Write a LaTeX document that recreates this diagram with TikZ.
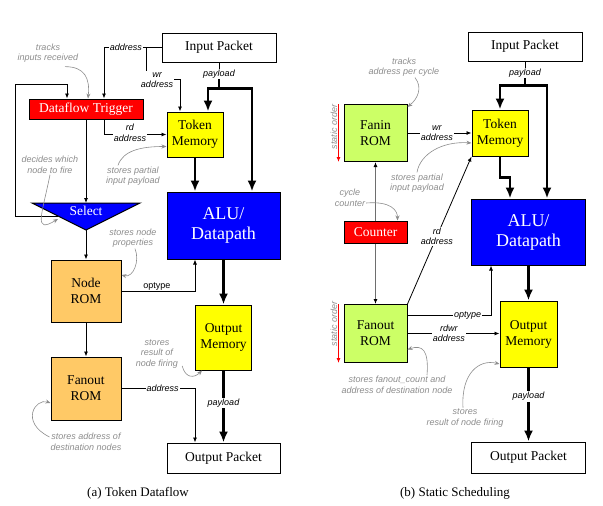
\documentclass[tikz,border=0pt]{standalone}
\usepackage{fontspec}
\setmainfont{Liberation Serif}
\setsansfont{Liberation Sans}
\usetikzlibrary{positioning, arrows.meta, calc}
\definecolor{trigRed}{HTML}{FF0000}
\definecolor{aluBlue}{HTML}{0000FF}
\definecolor{memYellow}{HTML}{FFFF00}
\definecolor{romOrange}{HTML}{FFC966}
\definecolor{romGreen}{HTML}{CCFF66}
\definecolor{noteGray}{HTML}{8C8C8C}
\definecolor{wireGray}{HTML}{6E6E6E}

\begin{document}
\begin{tikzpicture}[x=1pt, y=-1pt,
 blk/.style={draw, line width=1pt, inner sep=0pt, align=center, font=\fontsize{13.5}{16}\selectfont},
 lbl/.style={font=\fontsize{9}{10.5}\selectfont\sffamily\itshape, align=center, inner sep=1pt},
 note/.style={lbl, text=noteGray},
 wire/.style={line width=0.8pt, -{Latex[length=5pt, width=4pt]}},
 gwire/.style={wireGray, line width=1.5pt, -{Latex[length=5pt, width=4pt, black]}},
 bus/.style={line width=2.4pt, -{Latex[length=11pt, width=9pt]}},
 hint/.style={noteGray, line width=0.6pt, -{Stealth[length=5pt, width=4pt]}}]
\useasboundingbox (0,0) rectangle (603,506);

% (a) token dataflow
\node[blk, minimum width=114pt, minimum height=29pt] (inA) at (219,47.5) {Input Packet};
\node[blk, fill=trigRed, text=white, minimum width=114pt, minimum height=20pt] (trig) at (86,109) {Dataflow Trigger};
\node[blk, fill=memYellow, minimum width=56pt, minimum height=45pt] (tokA) at (195,134.5) {Token\\Memory};
\node[blk, fill=aluBlue, text=white, minimum width=113pt, minimum height=67pt, font=\fontsize{18}{20}\selectfont] (aluA) at (223.5,225.5) {ALU/\\Datapath};
\filldraw[fill=aluBlue, line width=1pt] (32,203) -- (140,203) -- (86,230) -- cycle;
\node[text=white, font=\fontsize{13.5}{16}\selectfont] (sel) at (86,211) {Select};
\coordinate (selTop) at (86,203); \coordinate (selApex) at (86,230); \coordinate (selLeft) at (58,216);
\node[blk, fill=romOrange, minimum width=70pt, minimum height=62pt] (nodeROM) at (86,291) {Node\\ROM};
\node[blk, fill=romOrange, minimum width=70pt, minimum height=63pt] (fanA) at (86,388.5) {Fanout\\ROM};
\node[blk, fill=memYellow, minimum width=56pt, minimum height=65pt] (outMemA) at (223.5,337.5) {Output\\Memory};
\node[blk, minimum width=113pt, minimum height=30pt] (outA) at (223.5,458) {Output Packet};
\node[lbl] (payA) at (219,74) {payload};

\draw[wire] (inA.west) -| ([xshift=18pt]trig.north) node[lbl, fill=white, pos=0.31] {address};
\draw[wire] (inA.west) ++(-15,0) |- ([xshift=-15pt,yshift=32pt]tokA.north) -- ([xshift=-15pt]tokA.north);
\node[lbl, fill=white] (wrA) at (157,80) {wr\\address};
\draw[wire] (trig.south) -- (selTop);
\draw[wire] ([xshift=18pt]trig.south) |- (tokA.west);
\node[lbl, fill=white] (rdA) at (130,133) {rd\\address};
\draw[wire] (selLeft) -- ++(-43,0) |- ([xshift=-19pt,yshift=14pt]trig.north) -- ([xshift=-19pt]trig.north);
\draw[line width=0.8pt] (inA.south) -- (payA.north);
\draw[bus] (payA.south) |- ([xshift=13pt,yshift=23pt]tokA.north) -- ([xshift=13pt]tokA.north);
\draw[bus] (payA.south) |- ([xshift=28.5pt,yshift=103pt]aluA.north) -- ([xshift=28.5pt]aluA.north);
\draw[bus] (tokA.south) -- (tokA.south |- aluA.north);
\draw[wire] (selApex) -- (nodeROM.north);
\draw[wire] (nodeROM.east) -| ([xshift=-28.5pt]aluA.south) node[lbl, font=\fontsize{9}{10.5}\selectfont\sffamily, pos=0.24, above=-1pt] {optype};
\draw[bus] (aluA.south) -- (outMemA.north);
\draw[wire] (nodeROM.south) -- (fanA.north);
\draw[wire] (fanA.east) -| ([xshift=-28.5pt]outA.north) node[lbl, fill=white, pos=0.28] {address};
\draw[bus] (outMemA.south) -- (outA.north) node[lbl, fill=white, pos=0.45] {payload};

\node[note] (trackA) at (48,53) {tracks\\inputs received};
\node[note] (decA) at (50,165) {decides which\\node to fire};
\node[note] (spA) at (133,176) {stores partial\\input payload};
\node[note] (snA) at (133,238) {stores node\\properties};
\node[note] (srA) at (157,354) {stores\\result of\\node firing};
\node[note] (saA) at (86,442) {stores address of\\destination nodes};
\draw[hint] ([xshift=17pt,yshift=-3pt]trackA.south) .. controls +(20,0) and +(2,-20) .. ([xshift=2pt]trig.north);
\draw[hint] (decA.south) .. controls +(-8,40) and +(-25,15) .. ([yshift=-3pt]selLeft);
\draw[hint] ([xshift=-15pt]spA.north) .. controls +(5,-15) and +(-25,0) .. ([yshift=-12pt]tokA.west);
\draw[hint] ([xshift=2pt]snA.south) .. controls +(5,12) and +(12,3) .. ([yshift=16pt]nodeROM.east);
\draw[hint] ([xshift=3pt,yshift=-12pt]srA.east) .. controls +(3,12) and +(-8,8) .. ([xshift=7pt]outMemA.south west);
\draw[hint] ([yshift=5pt]saA.west) .. controls +(-30,-15) and +(-15,-5) .. ([yshift=-14.5pt]fanA.west);

% (b) static scheduling
\node[blk, minimum width=114pt, minimum height=29pt] (inB) at (525,46.5) {Input Packet};
\node[blk, fill=memYellow, minimum width=56pt, minimum height=46pt] (tokB) at (500,133) {Token\\Memory};
\node[blk, fill=aluBlue, text=white, minimum width=114pt, minimum height=66pt, font=\fontsize{18}{20}\selectfont] (aluB) at (528.5,232) {ALU/\\Datapath};
\node[blk, fill=romGreen, minimum width=63pt, minimum height=57pt] (fanin) at (375.5,133) {Fanin\\ROM};
\node[blk, fill=trigRed, text=white, minimum width=63pt, minimum height=22pt] (cnt) at (375.5,232) {Counter};
\node[blk, fill=romGreen, minimum width=63pt, minimum height=58pt] (fanB) at (375.5,333.5) {Fanout\\ROM};
\node[blk, fill=memYellow, minimum width=57pt, minimum height=66pt] (outMemB) at (528.5,334) {Output\\Memory};
\node[blk, minimum width=114pt, minimum height=31pt] (outB) at (528.5,457.5) {Output Packet};
\node[lbl] (payB) at (525,73) {payload};

\draw[line width=0.8pt] (inB.south) -- (payB.north);
\draw[bus] (payB.south) |- ([xshift=0pt,yshift=24pt]tokB.north) -- (tokB.north);
\draw[bus] (payB.south) |- ([xshift=18.5pt,yshift=113pt]aluB.north) -- ([xshift=18.5pt]aluB.north);
\draw[bus] (tokB.south) |- ([xshift=-18.5pt,yshift=21pt]aluB.north) -- ([xshift=-18.5pt]aluB.north);
\draw[wire] (fanin.east) -- (tokB.west) node[lbl, fill=white, pos=0.46] {wr\\address};
\draw[gwire] (cnt.north) -- (fanin.south);
\draw[gwire] (cnt.south) -- (fanB.north);
\draw[wire] (fanB.north east) -- (tokB.south west) node[lbl, fill=white, pos=0.46] {rd\\address};
\draw[wire] ([yshift=18pt]fanB.east) -| ([xshift=-37.5pt]aluB.south) node[lbl, fill=white, pos=0.36] {optype};
\draw[wire] (fanB.east) -- (fanB.east -| outMemB.west) node[lbl, fill=white, pos=0.45] {rdwr\\address};
\draw[bus] (aluB.south) -- (outMemB.north);
\draw[bus] (outMemB.south) -- (outB.north) node[lbl, fill=white, pos=0.39] {payload};
\draw[red, line width=0.9pt, -{Latex[length=5pt, width=4pt]}] ([xshift=-5pt]fanin.north west) -- ([xshift=-5pt]fanin.south west);
\draw[red, line width=0.9pt, -{Latex[length=5pt, width=4pt]}] ([xshift=-5pt]fanB.north west) -- ([xshift=-5pt]fanB.south west);
\node[note, rotate=90] (soIn) at (334,127) {static order};
\node[note, rotate=90] (soOut) at (334,324) {static order};

\node[note] (trB) at (404,67) {tracks\\address per cycle};
\node[note] (spB) at (417,183) {stores partial\\input payload};
\node[note] (ccB) at (350,198) {cycle\\counter};
\node[note] (sfB) at (397,385) {stores fanout\_count and\\address of destination node};
\node[note] (srB) at (465,418) {stores\\result of node firing};
\draw[hint] ([xshift=11pt]trB.south) .. controls +(8,10) and +(10,-8) .. ([yshift=-3pt]fanin.north east);
\draw[hint] (spB.north) .. controls +(3,-18) and +(-30,-2) .. ([yshift=-10pt]tokB.west);
\draw[hint] ([yshift=-5pt]ccB.east) .. controls +(25,-2) and +(0,-10) .. ([xshift=-10pt]cnt.north east);
\draw[hint] ([xshift=30pt]sfB.north) .. controls +(2,-25) and +(15,-5) .. ([yshift=-16pt]fanB.east);
\draw[hint] ([xshift=-2pt]srB.north) .. controls +(-2,-35) and +(-20,-5) .. ([yshift=-30pt]outMemB.west);

\node[font=\fontsize{13}{15}\selectfont] (capA) at (138,493) {(a) Token Dataflow};
\node[font=\fontsize{13}{15}\selectfont] (capB) at (455,493) {(b) Static Scheduling};
\end{tikzpicture}
\end{document}
